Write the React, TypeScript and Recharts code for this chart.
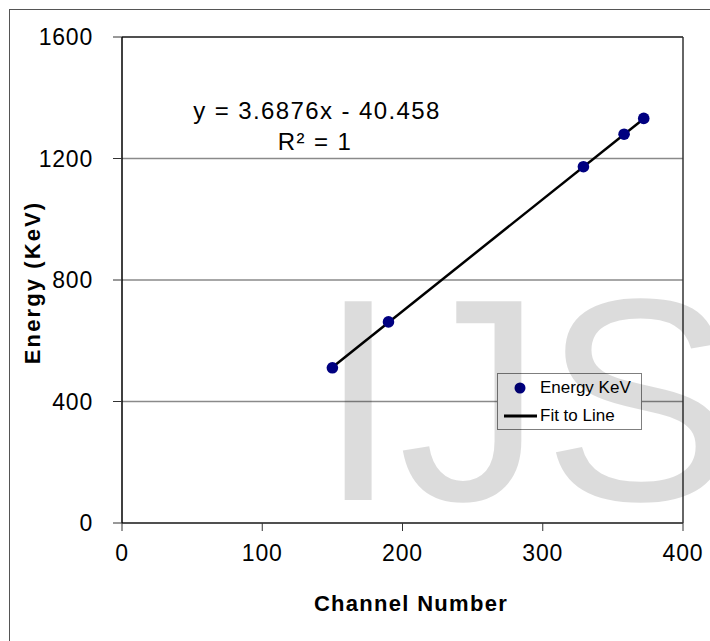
import React from 'react';
import {
  ComposedChart,
  Scatter,
  Line,
  XAxis,
  YAxis,
  CartesianGrid,
  Legend,
  ReferenceLine,
} from 'recharts';

const channels = [150, 190, 329, 358, 372];
const energies = [511, 662, 1173, 1280, 1332];
const fitChannels = [150, 372];
const fitEnergies = [513, 1331];
const xTicks = [0, 100, 200, 300, 400];
const yTicks = [0, 400, 800, 1200, 1600];
const equationText = 'y = 3.6876x - 40.458';
const rSquaredText = 'R\u00b2 = 1';
const xTitle = 'Channel Number';
const yTitle = 'Energy (KeV)';
const seriesNames = ['Energy KeV', 'Fit to Line'];
const watermarkText = 'IJS';

const points = channels.map((c, i) => ({ x: c, y: energies[i] }));
const fitLine = fitChannels.map((c, i) => ({ x: c, y: fitEnergies[i] }));

const FONT = '"Liberation Sans", Arial, sans-serif';

const YTick = (props: any) => {
  const { x, y, payload } = props;
  return (
    <text x={x} y={y} dy="0.355em" textAnchor="end" fontFamily={FONT} fontSize={23} letterSpacing={0.8} fill="#000">
      {payload.value}
    </text>
  );
};

const XTick = (props: any) => {
  const { x, y, payload } = props;
  return (
    <text x={x} y={y} dy="0.71em" textAnchor="middle" fontFamily={FONT} fontSize={23} letterSpacing={0.8} fill="#000">
      {payload.value}
    </text>
  );
};

const Dot = (props: any) => {
  const { cx, cy } = props;
  return <circle cx={cx} cy={cy} r={5.8} fill="#000080" />;
};

const LegendBox = (props: any) => {
  const payload = (props.payload || []) as any[];
  const ordered = seriesNames.map((n) => payload.find((p) => p.value === n) || { value: n });
  return (
    <div
      style={{
        boxSizing: 'border-box',
        width: 145,
        height: 57,
        border: '1px solid #7f7f7f',
        background: '#fff',
        fontFamily: FONT,
        fontSize: 17,
        color: '#000',
        position: 'relative',
      }}
    >
      {ordered.map((entry, i) => (
        <div
          key={entry.value}
          style={{
            position: 'absolute',
            left: 0,
            top: i === 0 ? 3 : 31,
            height: 22,
            display: 'flex',
            alignItems: 'center',
            whiteSpace: 'nowrap',
          }}
        >
          <svg width={42} height={22} style={{ display: 'block' }}>
            {i === 0 ? (
              <circle cx={22} cy={11} r={5.5} fill="#000080" />
            ) : (
              <line x1={6} x2={39} y1={11} y2={11} stroke="#000" strokeWidth={3} />
            )}
          </svg>
          <span style={{ lineHeight: '22px' }}>{entry.value}</span>
        </div>
      ))}
    </div>
  );
};

export default function App() {
  return (
    <div
      style={{
        position: 'absolute',
        left: 0,
        top: 0,
        width: 710,
        height: 641,
        background: '#fff',
        overflow: 'hidden',
      }}
    >
      <div
        style={{
          position: 'absolute',
          left: 9,
          top: 9,
          width: 720,
          height: 700,
          borderTop: '1px solid #555',
          borderLeft: '1px solid #555',
        }}
      />
      <div style={{ position: 'absolute', left: 0, top: 0 }}>
        <ComposedChart width={710} height={641} margin={{ top: 37, right: 27, bottom: 0, left: 0 }}>
          <CartesianGrid horizontal vertical={false} stroke="#8a8a8a" strokeWidth={1.3} />
          <XAxis
            type="number"
            dataKey="x"
            domain={[0, 400]}
            ticks={xTicks}
            interval={0}
            height={118}
            tickSize={8}
            tickMargin={14}
            axisLine={{ stroke: '#333', strokeWidth: 1.5 }}
            tickLine={{ stroke: '#333', strokeWidth: 1 }}
            tick={<XTick />}
            allowDataOverflow
          />
          <YAxis
            type="number"
            dataKey="y"
            domain={[0, 1600]}
            ticks={yTicks}
            interval={0}
            width={122}
            tickSize={9}
            tickMargin={20}
            axisLine={{ stroke: '#000', strokeWidth: 1.5 }}
            tickLine={{ stroke: '#333', strokeWidth: 1 }}
            tick={<YTick />}
            allowDataOverflow
          />
          <ReferenceLine y={1600} stroke="#333" strokeWidth={1.5} />
          <ReferenceLine x={400} stroke="#333" strokeWidth={1.5} />
          <Scatter
            name={seriesNames[0]}
            data={points}
            dataKey="y"
            fill="#000080"
            shape={<Dot />}
            legendType="circle"
            isAnimationActive={false}
          />
          <Line
            name={seriesNames[1]}
            data={fitLine}
            dataKey="y"
            type="linear"
            stroke="#000"
            strokeWidth={2.5}
            dot={false}
            activeDot={false}
            legendType="line"
            isAnimationActive={false}
          />
          <Legend
            layout="horizontal"
            verticalAlign="middle"
            align="center"
            content={<LegendBox />}
            wrapperStyle={{ position: 'absolute', left: 497, top: 373, width: 145, height: 57 }}
          />
          <text x={317} y={119} textAnchor="middle" fontFamily={FONT} fontSize={24} letterSpacing={1.4} fill="#000">
            {equationText}
          </text>
          <text x={315} y={150} textAnchor="middle" fontFamily={FONT} fontSize={24} letterSpacing={1.4} fill="#000">
            {rSquaredText}
          </text>
          <text x={411} y={611} textAnchor="middle" fontFamily={FONT} fontSize={22} fontWeight="bold" letterSpacing={1.3} fill="#000">
            {xTitle}
          </text>
          <text
            x={39.5}
            y={282.5}
            textAnchor="middle"
            transform="rotate(-90 39.5 282.5)"
            fontFamily={FONT}
            fontSize={22}
            fontWeight="bold"
            letterSpacing={2.1}
            fill="#000"
          >
            {yTitle}
          </text>
        </ComposedChart>
      </div>
      <svg
        width={710}
        height={641}
        style={{ position: 'absolute', left: 0, top: 0, pointerEvents: 'none' }}
      >
        <text x={318} y={500} fontFamily={FONT} fontSize={289} fill="#000" fillOpacity={0.137}>
          {watermarkText}
        </text>
      </svg>
    </div>
  );
}
